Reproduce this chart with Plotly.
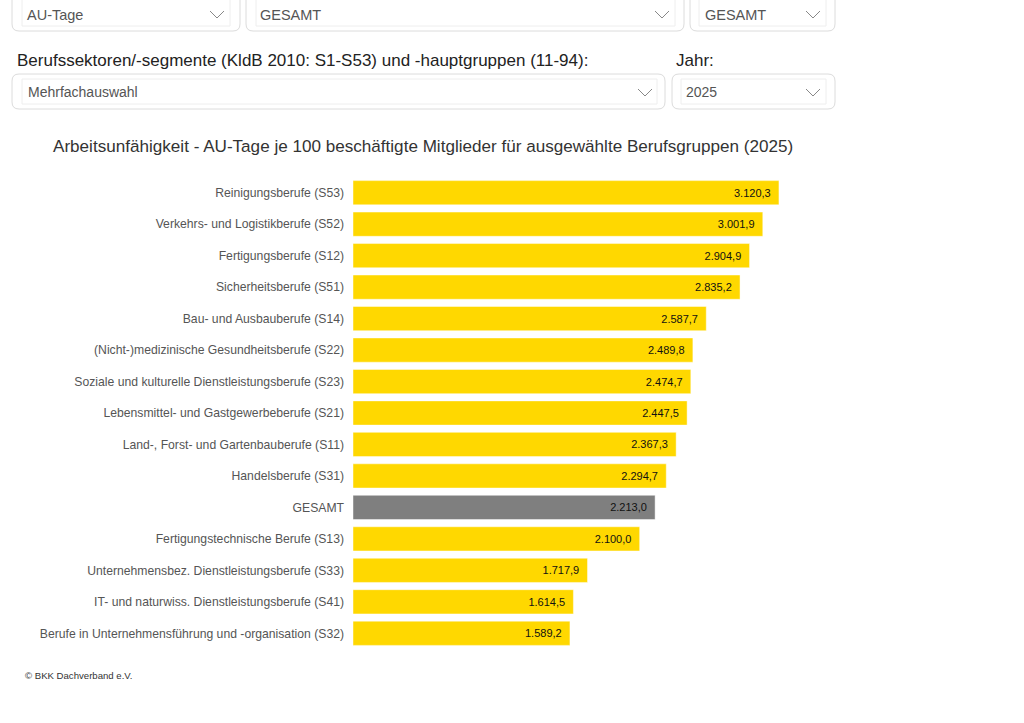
import plotly.graph_objects as go

# data
berufe = [
    "Reinigungsberufe (S53)",
    "Verkehrs- und Logistikberufe (S52)",
    "Fertigungsberufe (S12)",
    "Sicherheitsberufe (S51)",
    "Bau- und Ausbauberufe (S14)",
    "(Nicht-)medizinische Gesundheitsberufe (S22)",
    "Soziale und kulturelle Dienstleistungsberufe (S23)",
    "Lebensmittel- und Gastgewerbeberufe (S21)",
    "Land-, Forst- und Gartenbauberufe (S11)",
    "Handelsberufe (S31)",
    "GESAMT",
    "Fertigungstechnische Berufe (S13)",
    "Unternehmensbez. Dienstleistungsberufe (S33)",
    "IT- und naturwiss. Dienstleistungsberufe (S41)",
    "Berufe in Unternehmensführung und -organisation (S32)",
]
au_tage = [3120.3, 3001.9, 2904.9, 2835.2, 2587.7, 2489.8, 2474.7, 2447.5,
           2367.3, 2294.7, 2213.0, 2100.0, 1717.9, 1614.5, 1589.2]

FONT = "Arial, Liberation Sans, sans-serif"
YELLOW = "#FFD800"
GREY = "#7F7F7F"

# page geometry in screen pixels (body margin removed by post_script)
W, H = 1024, 723
ML, MT = 353, 177
MR = W - 860
MB = H - 649


def px(sx):
    return (sx - ML) / (W - ML - MR)


def py(sy):
    return (H - MB - sy) / (H - MT - MB)


def rrect(x0, y0, x1, y1, r):
    pts = [
        f"M {px(x0 + r)},{py(y0)}",
        f"L {px(x1 - r)},{py(y0)}",
        f"Q {px(x1)},{py(y0)} {px(x1)},{py(y0 + r)}",
        f"L {px(x1)},{py(y1 - r)}",
        f"Q {px(x1)},{py(y1)} {px(x1 - r)},{py(y1)}",
        f"L {px(x0 + r)},{py(y1)}",
        f"Q {px(x0)},{py(y1)} {px(x0)},{py(y1 - r)}",
        f"L {px(x0)},{py(y0 + r)}",
        f"Q {px(x0)},{py(y0)} {px(x0 + r)},{py(y0)}",
        "Z",
    ]
    return " ".join(pts)


def de_num(v):
    return f"{v:,.1f}".replace(",", "X").replace(".", ",").replace("X", ".")


colors = [GREY if b == "GESAMT" else YELLOW for b in berufe]
labels = [de_num(v) + "\u00a0\u2009" for v in au_tage]

fig = go.Figure(go.Bar(
    x=au_tage,
    y=berufe,
    orientation="h",
    marker=dict(color=colors, line=dict(color="rgba(255,255,255,0.45)", width=1)),
    width=0.77,
    text=labels,
    textposition="inside",
    insidetextanchor="end",
    textfont=dict(family=FONT, size=11, color="#111"),
    hoverinfo="x+y",
))

fig.update_layout(
    width=W,
    height=H,
    margin=dict(l=ML, r=MR, t=MT, b=MB),
    plot_bgcolor="white",
    paper_bgcolor="white",
    showlegend=False,
    font=dict(family=FONT),
)
fig.update_xaxes(range=[0, 3714], visible=False, fixedrange=True)
fig.update_yaxes(autorange="reversed", showgrid=False, showline=False, ticks="",
                 ticklabelstandoff=8,
                 tickfont=dict(family=FONT, size=12.2, color="#555"))

# dropdown widgets above the chart
outer = [(12, -10, 240, 31), (246, -10, 684, 31), (690, -10, 835, 31),
         (12, 74, 665, 109), (672, 74, 835, 109)]
inner = [(22, -5, 230, 26), (256, -5, 675, 26), (699, -5, 826, 26),
         (22, 79, 657, 104), (681, 79, 826, 104)]
shapes = []
for (x0, y0, x1, y1) in outer:
    shapes.append(dict(type="path", xref="paper", yref="paper", path=rrect(x0, y0, x1, y1, 7),
                       line=dict(color="#dcdcdc", width=1), fillcolor="white", layer="below"))
for (x0, y0, x1, y1) in inner:
    shapes.append(dict(type="rect", xref="paper", yref="paper",
                       x0=px(x0), x1=px(x1), y0=py(y0), y1=py(y1),
                       line=dict(color="#eeeeee", width=1), fillcolor="white", layer="below"))
for (cx, cy) in [(217, 14), (662, 14), (813, 14), (645, 92), (813, 92)]:
    shapes.append(dict(type="path", xref="paper", yref="paper",
                       path=f"M {px(cx - 7)},{py(cy - 3)} L {px(cx)},{py(cy + 4)} L {px(cx + 7)},{py(cy - 3)}",
                       line=dict(color="#888", width=1)))
fig.update_layout(shapes=shapes)

texts = [
    ("AU-Tage", 25, 15, 14.5, "#555"),
    ("GESAMT", 258, 15, 14.5, "#555"),
    ("GESAMT", 703, 15, 14.5, "#555"),
    ("Mehrfachauswahl", 26, 92, 14, "#555"),
    ("2025", 684, 92, 14, "#555"),
    ("Berufssektoren/-segmente (KldB 2010: S1-S53) und -hauptgruppen (11-94):", 15, 60, 17, "#222"),
    ("Jahr:", 674, 60, 17, "#222"),
    ("Arbeitsunfähigkeit - AU-Tage je 100 beschäftigte Mitglieder für ausgewählte Berufsgruppen (2025)",
     51, 147, 17.1, "#333"),
    ("© BKK Dachverband e.V.", 23, 675, 9.6, "#333"),
]
for (t, sx, sy, size, col) in texts:
    fig.add_annotation(text=t, xref="paper", yref="paper", x=px(sx), y=py(sy),
                       xanchor="left", yanchor="middle", showarrow=False,
                       font=dict(family=FONT, size=size, color=col))

fig.write_html("out.html", config={"displayModeBar": False},
               post_script="document.body.style.margin='0';")
